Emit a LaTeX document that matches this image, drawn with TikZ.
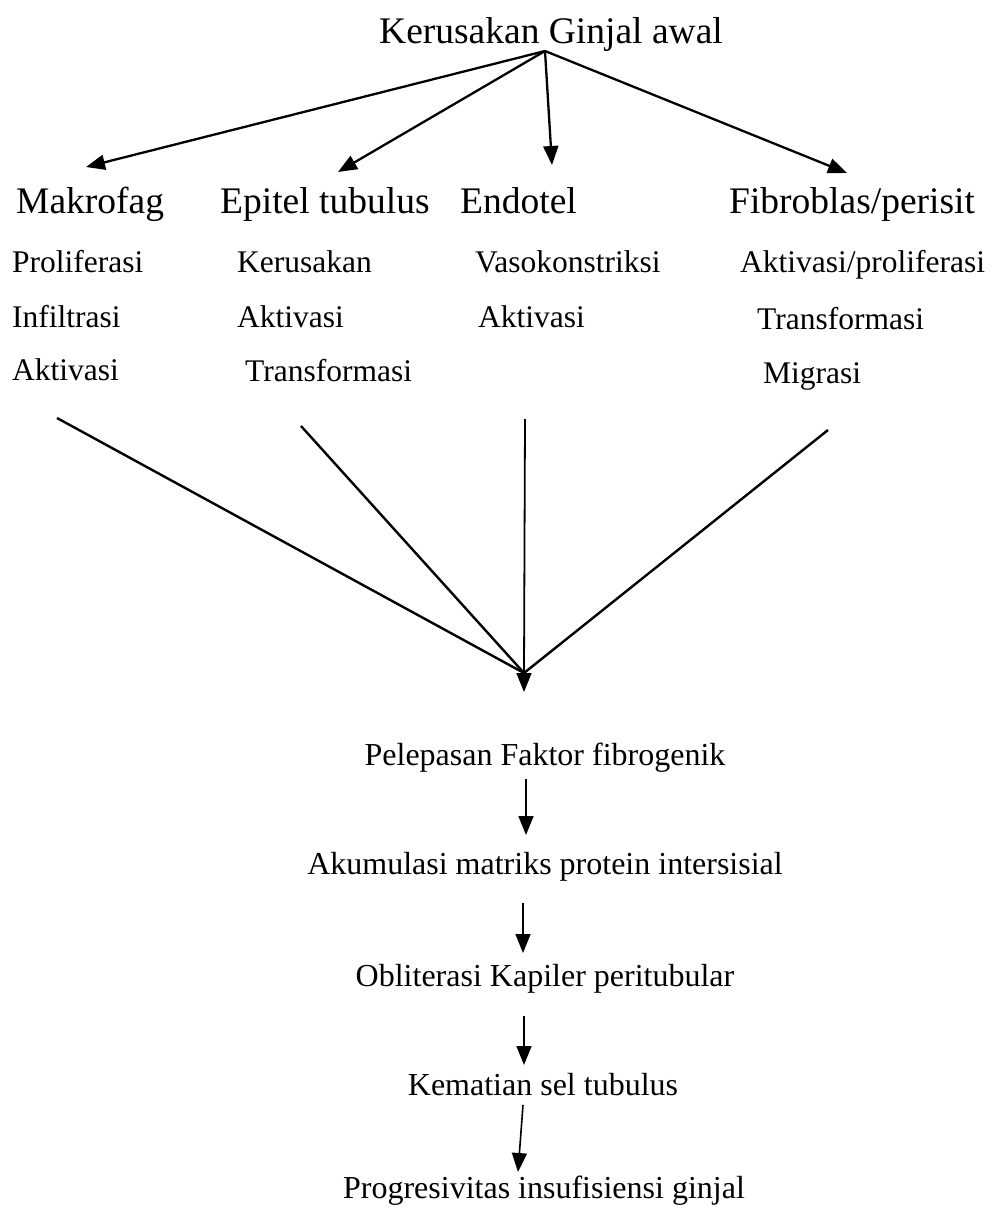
\documentclass[tikz,border=0pt]{standalone}
\usepackage{fontspec}
\setmainfont{Liberation Serif}
\usetikzlibrary{arrows.meta}
\begin{document}
\begin{tikzpicture}[x=1pt,y=-1pt,
  big/.style={inner sep=0pt,font=\fontsize{37.5}{40}\selectfont},
  sub/.style={inner sep=0pt,anchor=base west,font=\fontsize{31.5}{34}\selectfont},
  chain/.style={inner sep=0pt,anchor=base,font=\fontsize{32}{34}\selectfont},
  arr/.style={line width=2.3pt,-{Triangle[length=19pt,width=15pt]}},
  feed/.style={line width=2.4pt},
  thinfeed/.style={line width=1.8pt},
  downarr/.style={line width=1.6pt,-{Triangle[length=19pt,width=15pt]}}]
\useasboundingbox (0,0) rectangle (994,1210);
% title
\node[big,anchor=base] (title) at (551,43) {Kerusakan Ginjal awal};
% headings
\node[big,anchor=base west] (mak) at (16,213) {Makrofag};
\node[big,anchor=base west] (epi) at (220,213) {Epitel tubulus};
\node[big,anchor=base west] (endo) at (460,213) {Endotel};
\node[big,anchor=base west] (fib) at (729,213) {Fibroblas/perisit};
% sub items
\node[sub] (m1) at (12,272) {Proliferasi};
\node[sub] (m2) at (12,327) {Infiltrasi};
\node[sub] (m3) at (12,380) {Aktivasi};
\node[sub] (e1) at (237,272) {Kerusakan};
\node[sub] (e2) at (237,327) {Aktivasi};
\node[sub] (e3) at (245,381) {Transformasi};
\node[sub] (n1) at (475,272) {Vasokonstriksi};
\node[sub] (n2) at (478,327) {Aktivasi};
\node[sub] (f1) at (740,272) {Aktivasi/proliferasi};
\node[sub] (f2) at (757,329) {Transformasi};
\node[sub] (f3) at (763,383) {Migrasi};
% top arrows
\coordinate (src) at (545,51);
\coordinate (tmak) at (86,167);
\coordinate (tepi) at (338,172);
\coordinate (tendo) at (552,165);
\coordinate (tfib) at (847,173);
\draw[arr] (src) -- (tmak);
\draw[arr] (src) -- (tepi);
\draw[arr] (src) -- (tendo);
\draw[arr] (src) -- (tfib);
% converging lines
\coordinate (smak) at (57,418);
\coordinate (sepi) at (301,426);
\coordinate (sendo) at (525,419);
\coordinate (sfib) at (828,430);
\coordinate (conv) at (524,673);
\coordinate (convtip) at (524,692);
\draw[feed] (smak) -- (conv);
\draw[feed] (sepi) -- (conv);
\draw[thinfeed] (sendo) -- (conv);
\draw[feed] (sfib) -- (conv);
\draw[downarr] (conv) -- (convtip);
% chain
\node[chain] (c1) at (545,765) {Pelepasan Faktor fibrogenik};
\node[chain] (c2) at (545,874) {Akumulasi matriks protein intersisial};
\node[chain] (c3) at (545,986) {Obliterasi Kapiler peritubular};
\node[chain] (c4) at (543,1095) {Kematian sel tubulus};
\node[chain] (c5) at (544,1198) {Progresivitas insufisiensi ginjal};
\coordinate (a1s) at (526,779); \coordinate (a1e) at (526,835);
\coordinate (a2s) at (523,903); \coordinate (a2e) at (523,953);
\coordinate (a3s) at (524,1016); \coordinate (a3e) at (524,1065);
\coordinate (a4s) at (523,1105); \coordinate (a4e) at (518,1172);
\draw[downarr] (a1s) -- (a1e);
\draw[downarr] (a2s) -- (a2e);
\draw[downarr] (a3s) -- (a3e);
\draw[downarr] (a4s) -- (a4e);
\end{tikzpicture}
\end{document}
